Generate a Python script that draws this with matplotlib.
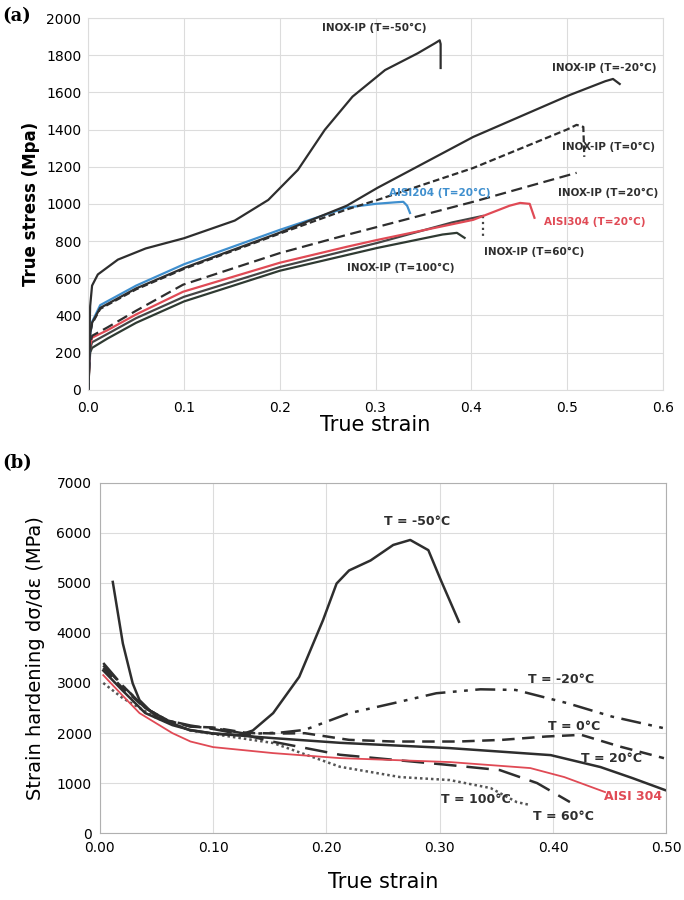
import numpy as np
from matplotlib import pyplot as plt

# ---------- panel (a): true stress vs true strain ----------
m50_x = [0.0, 0.002, 0.004, 0.01, 0.031, 0.06, 0.1, 0.153, 0.188, 0.219, 0.247, 0.276, 0.31, 0.344, 0.362,
         0.367, 0.368, 0.368]
m50_y = [0, 450, 560, 620, 700, 760, 815, 910, 1021, 1183, 1398, 1577, 1720, 1810, 1864,
         1880, 1860, 1731]

m20_x = [0.0, 0.002, 0.004, 0.0125, 0.05, 0.1, 0.2, 0.27, 0.302, 0.402, 0.503, 0.54, 0.548, 0.555]
m20_y = [0, 300, 360, 440, 545, 655, 845, 990, 1086, 1360, 1586, 1660, 1672, 1645]

t0_x = [0.0, 0.002, 0.004, 0.0125, 0.05, 0.1, 0.2, 0.27, 0.302, 0.402, 0.5, 0.51, 0.517, 0.518]
t0_y = [0, 300, 355, 435, 540, 650, 840, 970, 1021, 1193, 1400, 1425, 1414, 1253]

t20_x = [0.0, 0.002, 0.004, 0.02, 0.05, 0.099, 0.2, 0.27, 0.302, 0.402, 0.51]
t20_y = [0, 250, 290, 335, 425, 565, 735, 833, 876, 1011, 1167]

a204_x = [0.0, 0.002, 0.004, 0.0125, 0.05, 0.1, 0.2, 0.27, 0.3, 0.32, 0.329, 0.333, 0.336]
a204_y = [0, 300, 365, 455, 560, 675, 860, 980, 1000, 1008, 1011, 990, 951]

a304_x = [0.0, 0.002, 0.004, 0.02, 0.05, 0.099, 0.2, 0.27, 0.302, 0.402, 0.44, 0.451, 0.461, 0.466]
a304_y = [0, 240, 280, 320, 405, 527, 683, 769, 806, 914, 990, 1005, 1000, 925]

t60_x = [0.0, 0.002, 0.004, 0.02, 0.05, 0.1, 0.2, 0.302, 0.38, 0.412]
t60_y = [0, 220, 255, 300, 385, 500, 660, 790, 900, 935]
t60_drop_x = [0.412, 0.412]
t60_drop_y = [935, 823]

t100_x = [0.0, 0.002, 0.004, 0.02, 0.05, 0.1, 0.2, 0.302, 0.37, 0.385, 0.393]
t100_y = [0, 200, 225, 275, 360, 475, 640, 763, 835, 844, 817]

labels_a = ['INOX-IP (T=-50°C)', 'INOX-IP (T=-20°C)', 'INOX-IP (T=0°C)', 'AISI204 (T=20°C)',
            'INOX-IP (T=20°C)', 'AISI304 (T=20°C)', 'INOX-IP (T=60°C)', 'INOX-IP (T=100°C)']
label_a_x = [0.299, 0.539, 0.543, 0.367, 0.543, 0.529, 0.466, 0.326]
label_a_y = [1946, 1731, 1306, 1059, 1059, 903, 742, 656]

# ---------- panel (b): strain hardening ----------
b50_x = [0.0114, 0.0203, 0.029, 0.035, 0.0498, 0.079, 0.1, 0.123, 0.135, 0.153, 0.176, 0.197, 0.209, 0.22,
         0.239, 0.259, 0.274, 0.29, 0.301, 0.317]
b50_y = [5021, 3790, 2991, 2657, 2324, 2058, 1990, 1958, 2050, 2398, 3123, 4256, 4989, 5250,
         5450, 5760, 5860, 5656, 5057, 4225]

bm20_x = [0.003, 0.02, 0.04, 0.06, 0.08, 0.1, 0.13, 0.16, 0.181, 0.22, 0.259, 0.297, 0.336, 0.367, 0.413, 0.452, 0.498]
bm20_y = [3350, 2950, 2500, 2250, 2130, 2100, 1980, 2010, 2063, 2395, 2595, 2795, 2874, 2861, 2595, 2329, 2096]

b0_x = [0.003, 0.02, 0.04, 0.06, 0.08, 0.1, 0.13, 0.16, 0.181, 0.22, 0.259, 0.317, 0.355, 0.394, 0.425, 0.459, 0.498]
b0_y = [3300, 2900, 2500, 2250, 2130, 2110, 2000, 1990, 1996, 1863, 1830, 1830, 1863, 1930, 1963, 1730, 1497]

b20_x = [0.003, 0.02, 0.04, 0.064, 0.08, 0.1, 0.153, 0.212, 0.309, 0.398, 0.442, 0.47, 0.499]
b20_y = [3250, 2850, 2400, 2158, 2060, 1990, 1898, 1804, 1698, 1558, 1319, 1100, 859]

b304_x = [0.003, 0.02, 0.035, 0.064, 0.08, 0.1, 0.153, 0.212, 0.309, 0.38, 0.41, 0.446]
b304_y = [3157, 2750, 2398, 1998, 1830, 1718, 1598, 1498, 1419, 1299, 1119, 819]

b60_x = [0.003, 0.02, 0.04, 0.06, 0.08, 0.1, 0.13, 0.153, 0.212, 0.309, 0.353, 0.386, 0.415]
b60_y = [3400, 2950, 2500, 2250, 2150, 2080, 1950, 1825, 1565, 1359, 1259, 999, 619]

b100_x = [0.003, 0.02, 0.05, 0.08, 0.1, 0.153, 0.212, 0.265, 0.309, 0.345, 0.368, 0.38]
b100_y = [3000, 2700, 2300, 2050, 1980, 1800, 1325, 1119, 1059, 899, 619, 560]

labels_b = ['T = -50°C', 'T = -20°C', 'T = 0°C', 'T = 20°C', 'AISI 304', 'T = 100°C', 'T = 60°C']
label_b_x = [0.28, 0.407, 0.419, 0.452, 0.471, 0.332, 0.409]
label_b_y = [6230, 3074, 2129, 1497, 732, 665, 333]

dark = '#2e2e2e'
red = '#e04a55'
blue = '#3f8fce'
grid_c = '#dcdcdc'

fig = plt.figure(figsize=(6.84, 9.0), dpi=100)

# panel (a)
ax1 = fig.add_axes([0.129, 0.567, 0.840, 0.413])
ax1.plot(t100_x, t100_y, color='#2f3a32', lw=1.6)
ax1.plot(t60_x, t60_y, color='#454545', lw=1.6)
ax1.plot(t60_drop_x, t60_drop_y, color='#454545', lw=1.6, ls=':')
ax1.plot(a304_x, a304_y, color=red, lw=1.6)
ax1.plot(t20_x, t20_y, color=dark, lw=1.6, dashes=(5, 2.5))
ax1.plot(a204_x, a204_y, color=blue, lw=1.6)
ax1.plot(t0_x, t0_y, color=dark, lw=1.6, dashes=(3, 1.5))
ax1.plot(m20_x, m20_y, color=dark, lw=1.6)
ax1.plot(m50_x, m50_y, color=dark, lw=1.6)

label_a_c = [dark, dark, dark, blue, dark, red, dark, dark]
for t, x, y, c in zip(labels_a, label_a_x, label_a_y, label_a_c):
    ax1.text(x, y, t, fontsize=7.5, fontweight='bold', color=c, ha='center', va='center')

ax1.set_xlim(0, 0.6)
ax1.set_ylim(0, 2000)
ax1.set_xticks(np.arange(0, 0.61, 0.1))
ax1.set_xticklabels(['0.0', '0.1', '0.2', '0.3', '0.4', '0.5', '0.6'])
ax1.set_yticks(np.arange(0, 2001, 200))
ax1.grid(True, color=grid_c, lw=0.8)
ax1.tick_params(length=0, labelsize=10)
ax1.tick_params(axis='x', pad=8)
ax1.tick_params(axis='y', pad=5)
for s in ax1.spines.values():
    s.set_color(grid_c)
ax1.set_xlabel('True strain', fontsize=15, labelpad=0)
ax1.set_ylabel('True stress (Mpa)', fontsize=12, fontweight='bold', labelpad=4)

# panel (b)
ax2 = fig.add_axes([0.146, 0.0744, 0.828, 0.389])
ax2.plot(b100_x, b100_y, color='#555555', lw=1.8, dashes=(1, 1.2))
ax2.plot(b60_x, b60_y, color=dark, lw=1.8, dashes=(9, 4))
ax2.plot(b304_x, b304_y, color=red, lw=1.3)
ax2.plot(b20_x, b20_y, color=dark, lw=1.8)
ax2.plot(b0_x, b0_y, color=dark, lw=1.8, dashes=(5, 3))
ax2.plot(bm20_x, bm20_y, color=dark, lw=1.8, dashes=(8, 3, 1.5, 3, 1.5, 3))
ax2.plot(b50_x, b50_y, color=dark, lw=1.8)

label_b_c = [dark, dark, dark, dark, red, dark, dark]
for t, x, y, c in zip(labels_b, label_b_x, label_b_y, label_b_c):
    ax2.text(x, y, t, fontsize=9, fontweight='bold', color=c, ha='center', va='center', clip_on=True)

ax2.set_xlim(0, 0.5)
ax2.set_ylim(0, 7000)
ax2.set_xticks(np.arange(0, 0.51, 0.1))
ax2.set_xticklabels(['0.00', '0.10', '0.20', '0.30', '0.40', '0.50'])
ax2.set_yticks(np.arange(0, 7001, 1000))
ax2.grid(True, color=grid_c, lw=0.8)
ax2.tick_params(length=0, labelsize=10, pad=6)
for s in ax2.spines.values():
    s.set_color('#b0b0b0')
ax2.set_xlabel('True strain', fontsize=15, labelpad=12)
ax2.set_ylabel('Strain hardening d\u03c3/d\u03b5 (MPa)', fontsize=14, labelpad=8)

fig.text(0.003, 0.992, '(a)', fontsize=13, fontweight='bold', family='serif', va='top')
fig.text(0.003, 0.495, '(b)', fontsize=13, fontweight='bold', family='serif', va='top')

fig.savefig('out.png', dpi=100)
